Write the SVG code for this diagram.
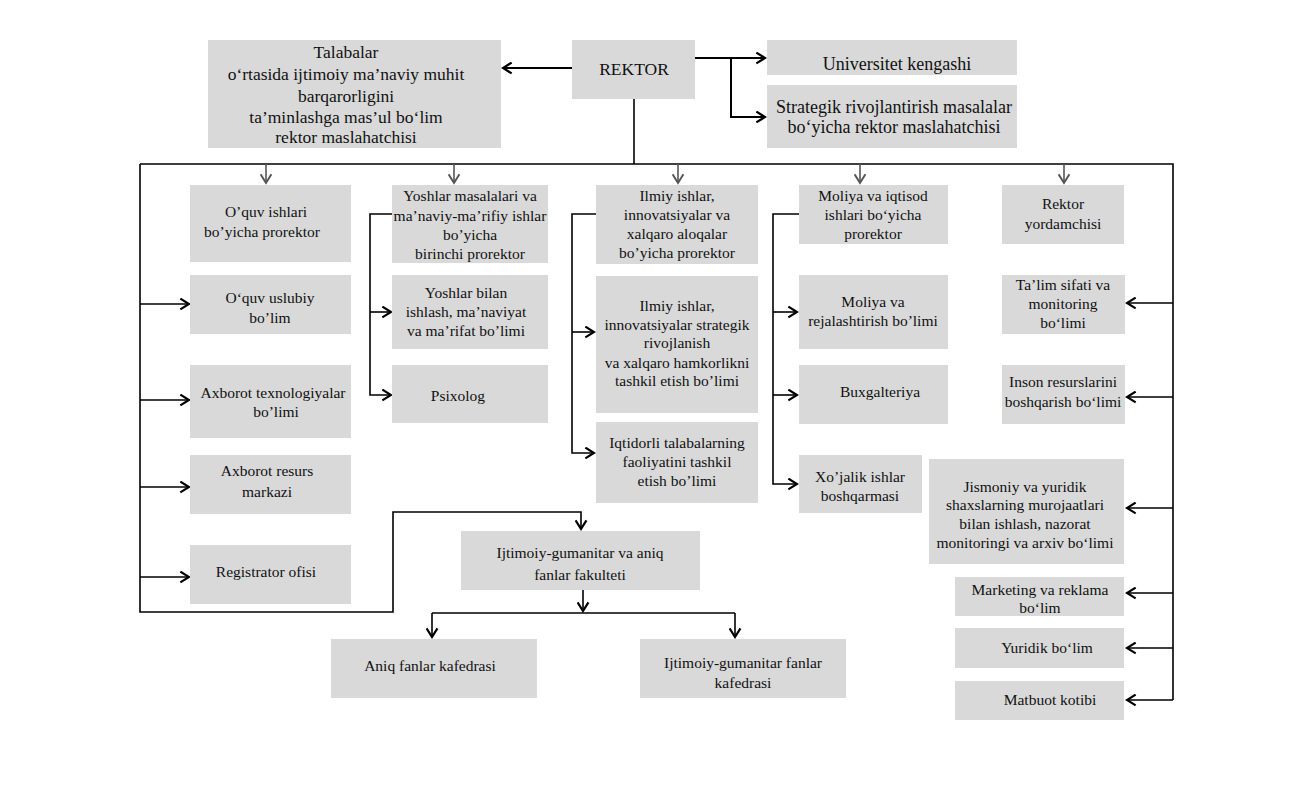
<svg xmlns="http://www.w3.org/2000/svg" width="1315" height="790" viewBox="0 0 1315 790">
<style>
.box{fill:#d9d9d9}
text{font-family:"Liberation Serif","Times New Roman",serif;font-size:15.5px;fill:#111;text-anchor:middle}
.big{font-size:17.5px}
.big2{font-size:18px}
.ln{fill:none;stroke:#000;stroke-width:1.6}
.th{fill:none;stroke:#000;stroke-width:2}
.gr{fill:none;stroke:#555;stroke-width:1.6}
</style>
<defs>
<marker id="a" viewBox="0 0 12 12" refX="10" refY="6" markerWidth="13" markerHeight="13" markerUnits="userSpaceOnUse" orient="auto">
<path d="M2,1 L10,6 L2,11" fill="none" stroke="#000" stroke-width="2"/>
</marker>
<marker id="g" viewBox="0 0 12 12" refX="10" refY="6" markerWidth="13" markerHeight="13" markerUnits="userSpaceOnUse" orient="auto">
<path d="M2,1 L10,6 L2,11" fill="none" stroke="#555" stroke-width="1.8"/>
</marker>
</defs>
<rect width="1315" height="790" fill="#fff"/>

<g id="connectors">
<path class="th" d="M572,68 H503" marker-end="url(#a)"/>
<path class="th" d="M695,58 H765" marker-end="url(#a)"/>
<path class="th" d="M731,58 V117 H765" marker-end="url(#a)"/>
<path class="ln" d="M634,99 V164"/>
<path class="ln" d="M140,164 H1173 V700"/>
<path class="gr" d="M266,164 V183" marker-end="url(#g)"/>
<path class="gr" d="M454,164 V183" marker-end="url(#g)"/>
<path class="gr" d="M678,164 V183" marker-end="url(#g)"/>
<path class="gr" d="M860,164 V183" marker-end="url(#g)"/>
<path class="gr" d="M1064,164 V183" marker-end="url(#g)"/>
<path class="ln" d="M140,164 V612 H393 V512 H581 V529" marker-end="url(#a)"/>
<path class="ln" d="M140,304 H189" marker-end="url(#a)"/>
<path class="ln" d="M140,400 H189" marker-end="url(#a)"/>
<path class="ln" d="M140,487 H189" marker-end="url(#a)"/>
<path class="ln" d="M140,577 H189" marker-end="url(#a)"/>
<path class="ln" d="M392,214 H370 V395 H391" marker-end="url(#a)"/>
<path class="ln" d="M370,312 H391" marker-end="url(#a)"/>
<path class="ln" d="M596,214 H572 V453 H594" marker-end="url(#a)"/>
<path class="ln" d="M572,332 H594" marker-end="url(#a)"/>
<path class="ln" d="M799,214 H773 V484 H797" marker-end="url(#a)"/>
<path class="ln" d="M773,312 H797" marker-end="url(#a)"/>
<path class="ln" d="M773,395 H797" marker-end="url(#a)"/>
<path class="ln" d="M1173,303 H1127" marker-end="url(#a)"/>
<path class="ln" d="M1173,397 H1127" marker-end="url(#a)"/>
<path class="ln" d="M1173,508 H1127" marker-end="url(#a)"/>
<path class="ln" d="M1173,593 H1127" marker-end="url(#a)"/>
<path class="ln" d="M1173,648 H1127" marker-end="url(#a)"/>
<path class="ln" d="M1173,700 H1127" marker-end="url(#a)"/>
<path class="ln" d="M583,590 V611" marker-end="url(#a)"/>
<path class="ln" d="M432,613 H735"/>
<path class="ln" d="M432,613 V637" marker-end="url(#a)"/>
<path class="ln" d="M735,613 V637" marker-end="url(#a)"/>
</g>

<g id="n-talabalar">
<rect class="box" x="208" y="40" width="293" height="108"/>
<text class="big" x="346"><tspan x="346" y="58">Talabalar</tspan><tspan x="346" y="80">o‘rtasida ijtimoiy ma’naviy muhit</tspan><tspan x="346" y="102">barqarorligini</tspan><tspan x="346" y="123">ta’minlashga mas’ul bo‘lim</tspan><tspan x="346" y="143">rektor maslahatchisi</tspan></text>
</g>
<g id="n-rektor">
<rect class="box" x="572" y="40" width="123" height="59"/>
<text class="big" x="634" y="75">REKTOR</text>
</g>
<g id="n-kengash">
<rect class="box" x="767" y="40" width="250" height="35"/>
<text class="big2" x="897" y="70">Universitet kengashi</text>
</g>
<g id="n-strategik">
<rect class="box" x="767" y="85" width="250" height="63"/>
<text class="big2"><tspan x="894" y="113">Strategik rivojlantirish masalalar</tspan><tspan x="894" y="133">bo‘yicha  rektor maslahatchisi</tspan></text>
</g>

<g id="n-oquv">
<rect class="box" x="190" y="185" width="161" height="77"/>
<text><tspan x="266" y="217">O’quv ishlari</tspan><tspan x="262" y="237">bo’yicha prorektor</tspan></text>
</g>
<g id="n-uslubiy">
<rect class="box" x="190" y="275" width="161" height="59"/>
<text><tspan x="270" y="303">O‘quv uslubiy</tspan><tspan x="270" y="323">bo’lim</tspan></text>
</g>
<g id="n-axborot-tex">
<rect class="box" x="190" y="365" width="161" height="73"/>
<text><tspan x="273" y="398">Axborot texnologiyalar</tspan><tspan x="276" y="417">bo’limi</tspan></text>
</g>
<g id="n-axborot-resurs">
<rect class="box" x="190" y="455" width="161" height="59"/>
<text><tspan x="267" y="476">Axborot resurs</tspan><tspan x="267" y="497">markazi</tspan></text>
</g>
<g id="n-registrator">
<rect class="box" x="190" y="545" width="161" height="59"/>
<text x="266" y="577">Registrator ofisi</text>
</g>

<g id="n-yoshlar">
<rect class="box" x="392" y="185" width="156" height="78"/>
<text><tspan x="470" y="201">Yoshlar masalalari va</tspan><tspan x="470" y="221">ma’naviy-ma’rifiy ishlar</tspan><tspan x="470" y="240">bo’yicha</tspan><tspan x="470" y="259">birinchi prorektor</tspan></text>
</g>
<g id="n-yoshlar-bilan">
<rect class="box" x="392" y="275" width="156" height="74"/>
<text><tspan x="466" y="298">Yoshlar bilan</tspan><tspan x="466" y="317">ishlash, ma’naviyat</tspan><tspan x="466" y="336">va ma’rifat bo’limi</tspan></text>
</g>
<g id="n-psixolog">
<rect class="box" x="392" y="365" width="156" height="58"/>
<text x="458" y="401">Psixolog</text>
</g>

<g id="n-ilmiy">
<rect class="box" x="596" y="185" width="162" height="79"/>
<text><tspan x="677" y="201">Ilmiy ishlar,</tspan><tspan x="677" y="220">innovatsiyalar va</tspan><tspan x="677" y="239">xalqaro aloqalar</tspan><tspan x="677" y="258">bo’yicha prorektor</tspan></text>
</g>
<g id="n-ilmiy-bolim">
<rect class="box" x="596" y="276" width="162" height="137"/>
<text><tspan x="677" y="311">Ilmiy ishlar,</tspan><tspan x="677" y="330">innovatsiyalar strategik</tspan><tspan x="677" y="348">rivojlanish</tspan><tspan x="677" y="368">va xalqaro hamkorlikni</tspan><tspan x="677" y="386">tashkil etish bo’limi</tspan></text>
</g>
<g id="n-iqtidorli">
<rect class="box" x="596" y="422" width="162" height="81"/>
<text><tspan x="677" y="448">Iqtidorli talabalarning</tspan><tspan x="677" y="467">faoliyatini tashkil</tspan><tspan x="677" y="486">etish bo’limi</tspan></text>
</g>

<g id="n-moliya">
<rect class="box" x="799" y="185" width="149" height="59"/>
<text><tspan x="873" y="201">Moliya va iqtisod</tspan><tspan x="873" y="220">ishlari bo‘yicha</tspan><tspan x="873" y="239">prorektor</tspan></text>
</g>
<g id="n-moliya-rej">
<rect class="box" x="799" y="275" width="149" height="74"/>
<text><tspan x="873" y="307">Moliya va</tspan><tspan x="873" y="326">rejalashtirish bo’limi</tspan></text>
</g>
<g id="n-buxgalteriya">
<rect class="box" x="799" y="365" width="149" height="59"/>
<text x="880" y="397">Buxgalteriya</text>
</g>
<g id="n-xojalik">
<rect class="box" x="799" y="455" width="123" height="58"/>
<text><tspan x="860" y="482">Xo’jalik ishlar</tspan><tspan x="860" y="501">boshqarmasi</tspan></text>
</g>

<g id="n-yordamchi">
<rect class="box" x="1002" y="185" width="122" height="59"/>
<text><tspan x="1063" y="209">Rektor</tspan><tspan x="1063" y="229">yordamchisi</tspan></text>
</g>
<g id="n-talim">
<rect class="box" x="1002" y="275" width="123" height="59"/>
<text><tspan x="1063" y="290">Ta’lim sifati va</tspan><tspan x="1063" y="309">monitoring</tspan><tspan x="1063" y="328">bo‘limi</tspan></text>
</g>
<g id="n-inson">
<rect class="box" x="1002" y="365" width="123" height="59"/>
<text><tspan x="1063" y="387">Inson resurslarini</tspan><tspan x="1063" y="407">boshqarish bo‘limi</tspan></text>
</g>
<g id="n-jismoniy">
<rect class="box" x="929" y="459" width="195" height="105"/>
<text><tspan x="1025" y="492">Jismoniy  va yuridik</tspan><tspan x="1025" y="510">shaxslarning murojaatlari</tspan><tspan x="1025" y="529">bilan  ishlash, nazorat</tspan><tspan x="1025" y="548">monitoringi va arxiv bo‘limi</tspan></text>
</g>
<g id="n-marketing">
<rect class="box" x="955" y="577" width="169" height="39"/>
<text><tspan x="1040" y="595">Marketing va reklama</tspan><tspan x="1040" y="613">bo‘lim</tspan></text>
</g>
<g id="n-yuridik">
<rect class="box" x="955" y="628" width="169" height="40"/>
<text x="1047" y="653">Yuridik bo‘lim</text>
</g>
<g id="n-matbuot">
<rect class="box" x="955" y="681" width="169" height="39"/>
<text x="1050" y="705">Matbuot kotibi</text>
</g>

<g id="n-fakultet">
<rect class="box" x="461" y="531" width="239" height="59"/>
<text><tspan x="580" y="558">Ijtimoiy-gumanitar va aniq</tspan><tspan x="580" y="580">fanlar  fakulteti</tspan></text>
</g>
<g id="n-aniq">
<rect class="box" x="331" y="639" width="206" height="59"/>
<text x="430" y="671">Aniq fanlar kafedrasi</text>
</g>
<g id="n-ijtimoiy-kafedra">
<rect class="box" x="640" y="639" width="206" height="59"/>
<text><tspan x="743" y="668">Ijtimoiy-gumanitar fanlar</tspan><tspan x="743" y="688">kafedrasi</tspan></text>
</g>
</svg>
